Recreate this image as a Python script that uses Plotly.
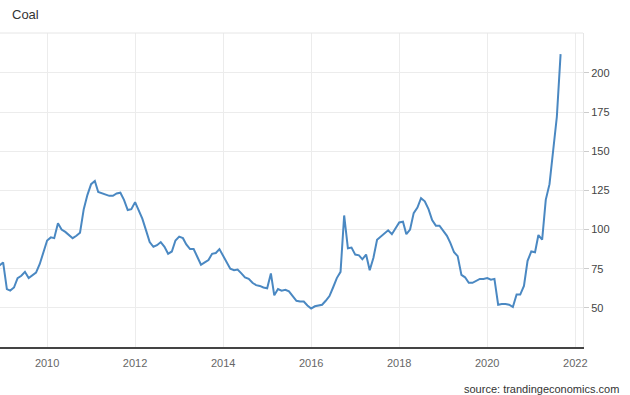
import pandas as pd
import plotly.graph_objects as go

start_month = "2008-12-01"
coal_values = [
    77, 79, 62, 61, 63, 69, 70.5, 73, 69, 71, 72.5, 78,
    86, 93, 95, 94.5, 104, 100, 98.5, 96.5, 94.5, 96, 98, 113,
    122, 129, 131, 124, 123, 122, 121.5, 121.5, 123, 123.5, 119, 112.5,
    113, 117.5, 112.5, 107, 99.5, 92, 89, 90, 92, 89, 84.5, 86,
    93, 95.5, 94.5, 90.5, 87.5, 87.5, 82.5, 77.5, 79, 80.5, 84.5, 85,
    87.5, 83, 78.5, 75, 74, 74.5, 72, 69.5, 68.5, 66, 64.5, 64,
    63, 62.5, 72, 58, 62, 61, 61.5, 60.5, 57.5, 54.5, 54, 54,
    51.5, 49.5, 51, 51.5, 52, 54.5, 57.5, 63, 69, 73, 109, 88,
    88.5, 84, 83.5, 81, 84, 74, 82, 93.5, 95.5, 97, 99.5, 97,
    101, 104.5, 105, 97, 100, 110.5, 114, 120, 118, 113, 106, 102.5,
    102.5, 99.5, 96, 91.5, 85.5, 83, 71, 69.5, 66, 66, 67.5, 68.5,
    68.5, 69, 68, 68.5, 52, 52.5, 52.5, 52, 50.5, 58.5, 58.5, 64,
    80, 86, 85.5, 96.5, 93.5, 119, 129, 152, 172, 212,
]
dates = pd.date_range(start_month, periods=len(coal_values), freq="MS")

y_ticks = [50, 75, 100, 125, 150, 175, 200]
x_ticks = ["2010-01-01", "2012-01-01", "2014-01-01", "2016-01-01",
           "2018-01-01", "2020-01-01", "2022-01-01"]
x_tick_labels = ["2010", "2012", "2014", "2016", "2018", "2020", "2022"]

font_family = "Liberation Sans, Arial, sans-serif"

fig = go.Figure()
fig.add_trace(go.Scatter(
    x=dates, y=coal_values, mode="lines",
    line=dict(color="#4a88c2", width=2),
    hoverinfo="x+y", showlegend=False,
))

fig.update_layout(
    width=630, height=395,
    margin=dict(l=0, r=47, t=33, b=48),
    paper_bgcolor="white", plot_bgcolor="white",
    font=dict(family=font_family, size=11, color="#444"),
    title=dict(text="Coal", x=0, xref="paper", y=1, yref="container",
               xanchor="left", yanchor="top", pad=dict(l=12, t=10),
               font=dict(size=13, color="#333", family=font_family)),
    xaxis=dict(
        type="date",
        range=["2008-12-06", "2022-03-06"],
        tickvals=x_ticks, ticktext=x_tick_labels,
        showgrid=True, gridcolor="#ececec", gridwidth=1,
        showline=True, linecolor="#444", linewidth=2,
        ticks="", ticklabelstandoff=5,
        tickfont=dict(size=11, color="#666"),
        zeroline=False,
    ),
    yaxis=dict(
        side="right",
        range=[25, 225.5],
        tickvals=y_ticks,
        showgrid=True, gridcolor="#ececec", gridwidth=1,
        showline=True, linecolor="#e6e6e6", linewidth=1,
        ticks="outside", ticklen=5, tickcolor="#cccccc",
        tickfont=dict(size=11, color="#444"),
        zeroline=False,
    ),
    annotations=[dict(
        text="source: trandingeconomics.com",
        x=1 + (621 - 583) / 583, y=-(389 - 347) / 314,
        xref="paper", yref="paper", showarrow=False,
        xanchor="right", yanchor="middle",
        font=dict(size=11, color="#333", family=font_family),
    )],
    shapes=[dict(type="line", xref="paper", yref="paper",
                 x0=0, x1=1, y0=1, y1=1,
                 line=dict(color="#e6e6e6", width=1))],
)

fig.write_html(
    "out.html",
    config={"displayModeBar": False},
    post_script="document.body.style.margin='0';document.body.style.padding='0';",
)
